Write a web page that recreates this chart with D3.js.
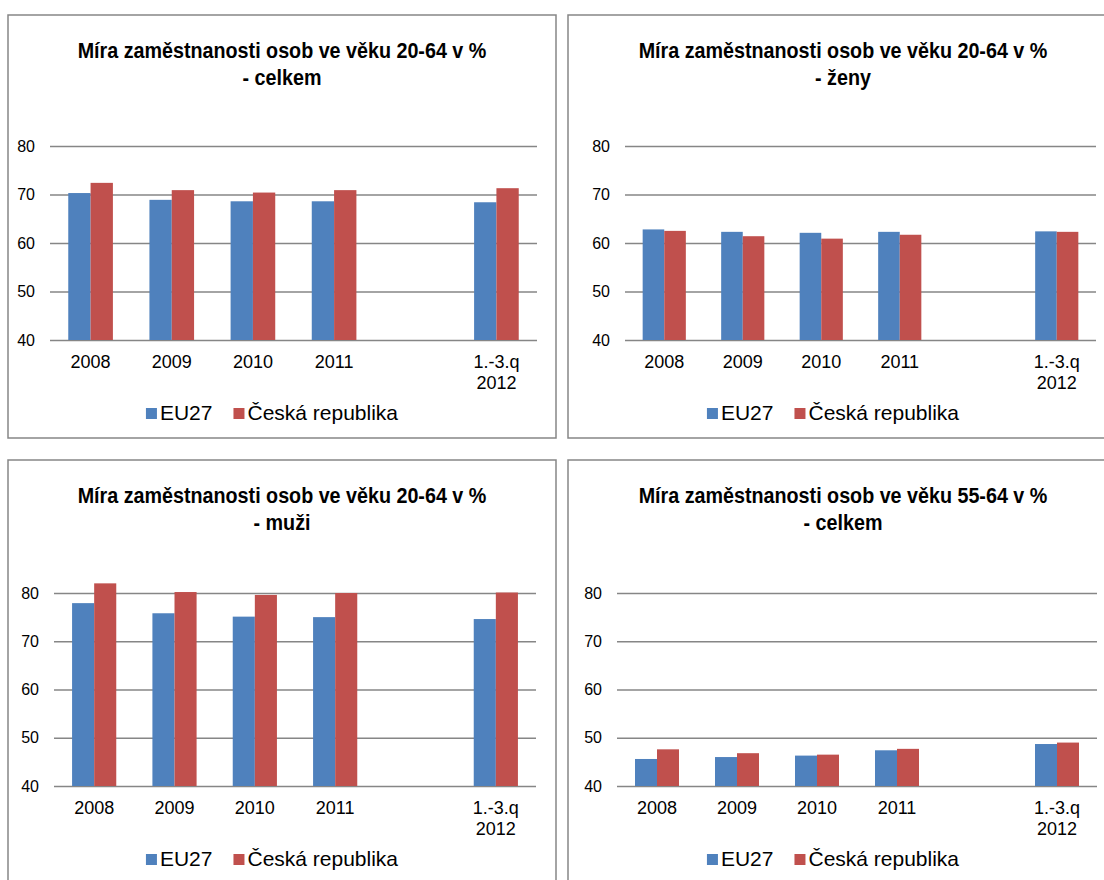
<!DOCTYPE html>
<html>
<head>
<meta charset="utf-8">
<script src="https://cdn.jsdelivr.net/npm/d3@7"></script>
<style>
  html, body { margin: 0; padding: 0; background: #fff; }
  svg { display: block; }
</style>
</head>
<body>
<svg id="chart" width="1104" height="880"></svg>
<script>
// ---- DATA ----
const categories = ["2008", "2009", "2010", "2011", " ", "1.-3.q\n2012"];
const seriesNames = ["EU27", "Česká republika"];
const yTicks = [40, 50, 60, 70, 80];

const titles = [
  ["Míra zaměstnanosti osob ve věku 20-64 v %", "- celkem"],
  ["Míra zaměstnanosti osob ve věku 20-64 v %", "- ženy"],
  ["Míra zaměstnanosti osob ve věku 20-64 v %", "- muži"],
  ["Míra zaměstnanosti osob ve věku 55-64 v %", "- celkem"]
];

const celkemEU = [70.3, 68.9, 68.6, 68.6, null, 68.4];
const celkemCZ = [72.4, 70.9, 70.4, 70.9, null, 71.3];
const zenyEU   = [62.8, 62.3, 62.1, 62.3, null, 62.4];
const zenyCZ   = [62.5, 61.4, 60.9, 61.7, null, 62.3];
const muziEU   = [77.9, 75.8, 75.1, 75.0, null, 74.6];
const muziCZ   = [82.0, 80.2, 79.6, 80.0, null, 80.1];
const starsiEU = [45.6, 46.0, 46.3, 47.4, null, 48.7];
const starsiCZ = [47.6, 46.8, 46.5, 47.7, null, 49.0];

const panelSeries = [
  [celkemEU, celkemCZ],
  [zenyEU, zenyCZ],
  [muziEU, muziCZ],
  [starsiEU, starsiCZ]
];

// ---- LAYOUT ----
const colors = ["#4F81BD", "#C0504D"];
const layout = [
  { box: [8, 15, 548, 423],  x0: 50,  x1: 537,  yTop: 146, yBot: 340, cx: 282 },
  { box: [568, 15, 560, 423], x0: 625, x1: 1096, yTop: 146, yBot: 340, cx: 843 },
  { box: [8, 460, 548, 440],  x0: 54,  x1: 536,  yTop: 593, yBot: 786, cx: 282 },
  { box: [568, 460, 560, 440], x0: 617, x1: 1097, yTop: 593, yBot: 786, cx: 843 }
];
const titleWidth = 409;

const svg = d3.select("#chart");
const FONT = "'Liberation Sans', Arial, sans-serif";
const TITLEFONT = "'Liberation Sans Narrow', 'Arial Narrow', 'Liberation Sans', Arial, sans-serif";

layout.forEach((L, pi) => {
  const g = svg.append("g");
  const [bx, by, bw, bh] = L.box;

  g.append("rect")
    .attr("x", bx).attr("y", by).attr("width", bw).attr("height", bh)
    .attr("fill", "#fff").attr("stroke", "#868686").attr("stroke-width", 1.5);

  // title (horizontally condensed to mimic a narrow bold face)
  const tg = g.append("g");
  const t = tg.append("text")
    .attr("text-anchor", "middle")
    .attr("font-family", TITLEFONT)
    .attr("font-weight", "bold")
    .attr("font-size", 22)
    .attr("fill", "#000");
  const spans = titles[pi].map((line, i) =>
    t.append("tspan").attr("x", 0).attr("y", by + 43 + i * 27).text(line));
  const w0 = spans[0].node().getComputedTextLength();
  const k = titleWidth / w0;
  tg.attr("transform", `translate(${L.cx},0) scale(${k},1)`);

  const x = d3.scaleBand().domain(categories).range([L.x0, L.x1])
    .paddingInner(0.45).paddingOuter(0.225);
  const xs = d3.scaleBand().domain(seriesNames).range([0, x.bandwidth()]);
  const y = d3.scaleLinear().domain([40, 80]).range([L.yBot, L.yTop]);

  // gridlines + y labels
  const yAxis = d3.axisLeft(y).tickValues(yTicks).tickSize(-(L.x1 - L.x0)).tickPadding(15)
    .tickFormat(d3.format("d"));
  const ga = g.append("g").attr("transform", `translate(${L.x0},0)`).call(yAxis);
  ga.select(".domain").remove();
  ga.selectAll(".tick line").attr("stroke", "#868686").attr("stroke-width", 1.5);
  ga.selectAll(".tick text").attr("font-family", FONT).attr("font-size", 16).attr("fill", "#000");

  // bars
  const rows = categories.map((c, i) => ({ c, vals: panelSeries[pi].map(s => s[i]) }));
  const grp = g.selectAll(".grp").data(rows).join("g")
    .attr("transform", d => `translate(${x(d.c)},0)`);
  grp.selectAll("rect").data(d => d.vals.map((v, k) => ({ v, k })).filter(e => e.v != null))
    .join("rect")
    .attr("x", e => xs(seriesNames[e.k]))
    .attr("width", xs.bandwidth())
    .attr("y", e => y(e.v))
    .attr("height", e => y(40) - y(e.v))
    .attr("fill", e => colors[e.k]);

  // x labels
  const xl = g.append("g");
  categories.forEach(c => {
    const lines = c.trim() === "" ? [] : c.split("\n");
    const tx = xl.append("text")
      .attr("text-anchor", "middle")
      .attr("font-family", FONT).attr("font-size", 18).attr("fill", "#000");
    lines.forEach((ln, i) => {
      tx.append("tspan").attr("x", x(c) + x.bandwidth() / 2)
        .attr("y", L.yBot + 28 + i * 21).text(ln);
    });
  });

  // legend
  const lg = g.append("g");
  const ly = L.yBot + 80;
  const lcx = L.cx - 10;
  let cur = 0;
  seriesNames.forEach((name, k) => {
    const it = lg.append("g");
    it.append("rect").attr("x", cur).attr("y", ly - 12).attr("width", 11).attr("height", 11)
      .attr("fill", colors[k]);
    const tx = it.append("text").attr("x", cur + 14).attr("y", ly)
      .attr("font-family", FONT).attr("font-size", 21).attr("fill", "#000").text(name);
    cur += 14 + tx.node().getComputedTextLength() + 21;
  });
  const total = cur - 21;
  lg.attr("transform", `translate(${lcx - total / 2},0)`);
});
</script>
</body>
</html>
